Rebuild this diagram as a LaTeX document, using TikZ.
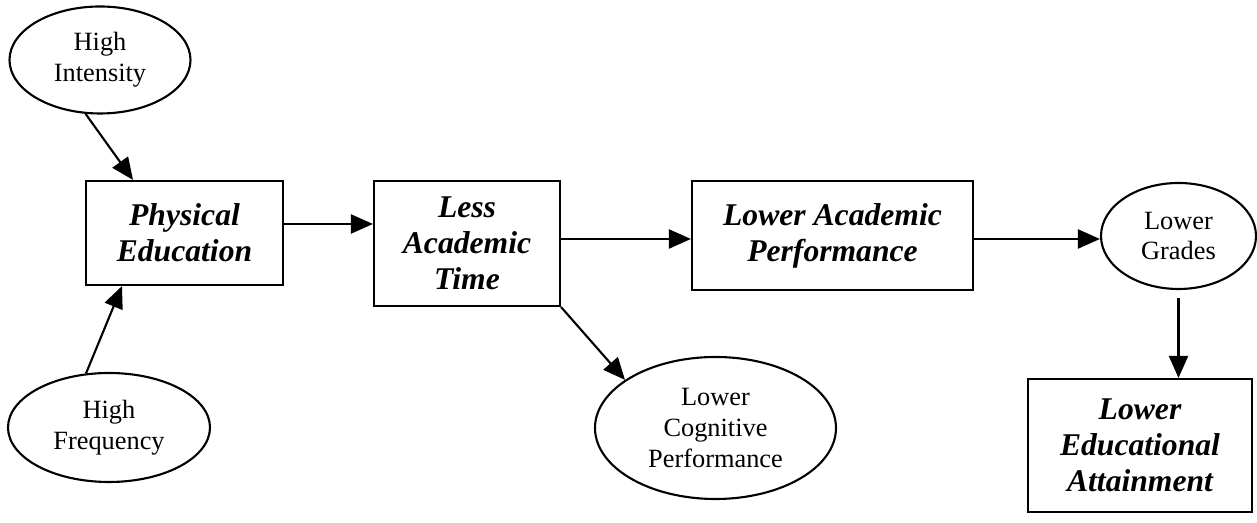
\documentclass[tikz,border=0pt]{standalone}
\usepackage{fontspec}
\setmainfont{Liberation Serif}
\usetikzlibrary{arrows.meta,shapes.geometric}

\begin{document}
\begin{tikzpicture}[
        box/.style={draw, line width=1.2pt, inner sep=0pt, align=center,
            font=\fontsize{18}{20.5}\selectfont\bfseries\itshape},
        oval/.style={draw, ellipse, line width=1.2pt, inner sep=0pt, align=center,
            font=\fontsize{15}{17.6}\selectfont},
        arr/.style={line width=1.2pt, -{Triangle[length=0.44cm,width=0.38cm]}}
    ]
    \useasboundingbox (0,0) rectangle (25.14,10.46);

    \node[oval, minimum width=3.62cm, minimum height=2.14cm] (hi) at (2.00, 9.26) {High\\Intensity};
    \node[box, minimum width=3.94cm, minimum height=2.08cm] (pe) at (3.69, 5.80) {Physical\\Education};
    \node[oval, minimum width=4.04cm, minimum height=2.18cm] (hf) at (2.18, 1.91) {High\\Frequency};
    \node[box, minimum width=3.72cm, minimum height=2.50cm] (lat) at (9.34, 5.59) {Less\\Academic\\Time};
    \node[box, minimum width=5.62cm, minimum height=2.18cm] (lap) at (16.65, 5.75) {Lower Academic\\Performance};
    \node[oval, minimum width=4.82cm, minimum height=2.84cm] (lcp) at (14.31, 1.90) {Lower\\Cognitive\\Performance};
    \node[oval, minimum width=3.10cm, minimum height=2.12cm] (lg) at (23.57, 5.74) {Lower\\Grades};
    \node[box, minimum width=4.48cm, minimum height=2.66cm] (lea) at (22.80, 1.55) {Lower\\Educational\\Attainment};

    % arrows between the boxes
    \coordinate (peout) at ([yshift=0.18cm]pe.east);
    \coordinate (latout) at ([yshift=0.09cm]lat.east);
    \coordinate (lapout) at ([yshift=-0.07cm]lap.east);

    \draw[arr] (hi.255) -- ([xshift=-1.03cm]pe.north);
    \draw[arr] (hf.113) -- ([xshift=-1.25cm]pe.south);
    \draw[arr] (peout) -- (peout -| lat.west);
    \draw[arr] (latout) -- (latout -| lap.west);
    \draw[arr] (lat.south east) -- (lcp.152);
    \draw[arr] (lapout) -- (lapout -| lg.west);
    \draw[arr, shorten <=0.16cm] (lg.south) -- (lg.south |- lea.north);

\end{tikzpicture}
\end{document}
